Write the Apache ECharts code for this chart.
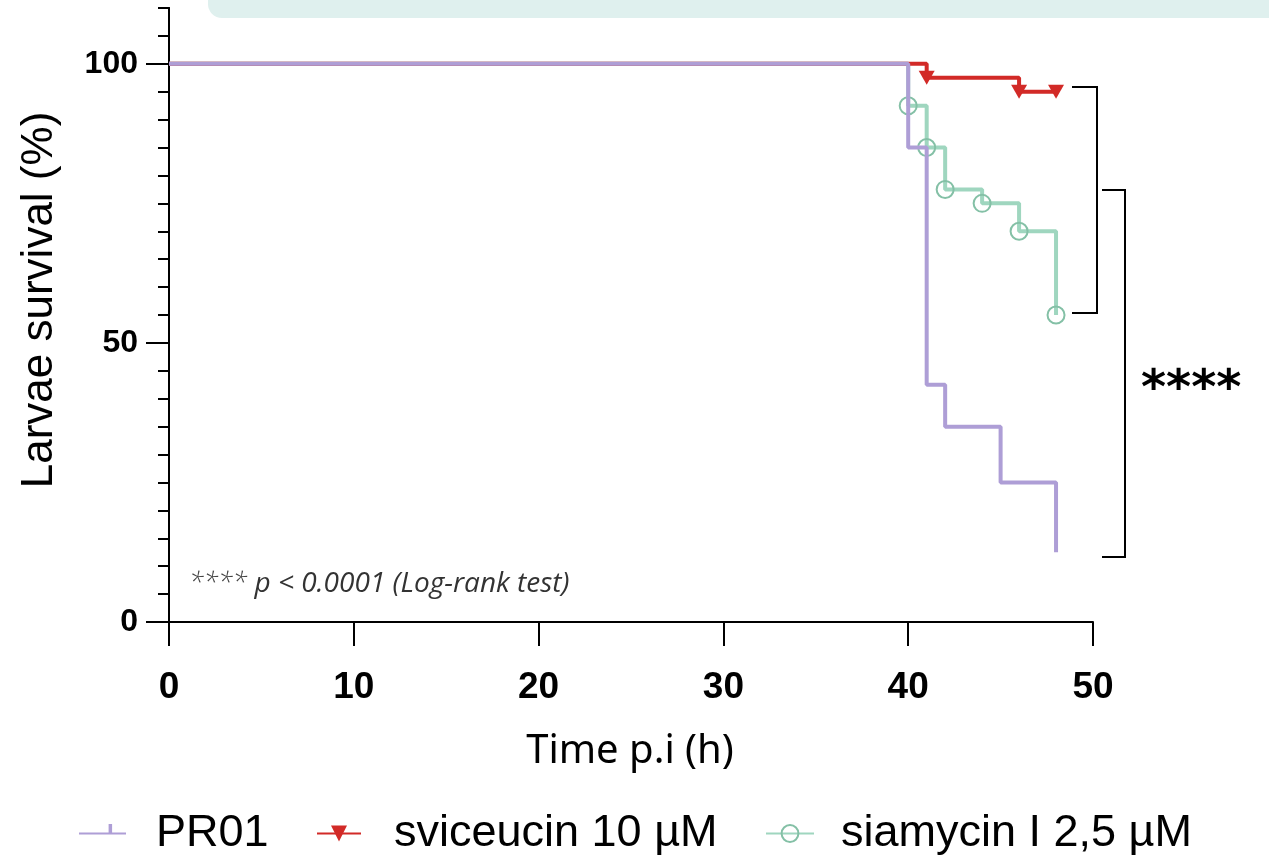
<!DOCTYPE html>
<html>
<head>
<meta charset="utf-8">
<script src="https://cdn.jsdelivr.net/npm/echarts@6/dist/echarts.min.js"></script>
<style>
  html, body { margin: 0; padding: 0; background: #ffffff; }
  #chart { width: 1269px; height: 862px; }
</style>
</head>
<body>
<div id="chart"></div>
<script>
// ---- data (time in hours, survival in %) ----
const seriesNames = ['PR01', 'sviceucin 10 µM', 'siamycin I 2,5 µM'];
const pr01 = [[0, 100], [40, 85], [41, 42.5], [42, 35], [45, 25], [48, 12.5]];
const sviceucin = [[0, 100], [41, 97.5], [46, 95], [48, 95]];
const siamycin = [[0, 100], [40, 92.5], [41, 85], [42, 77.5], [44, 75], [46, 70], [48, 55]];
const xTicks = [0, 10, 20, 30, 40, 50];
const yMajorTicks = [0, 50, 100];
const significance = '****';
const testNote = 'p < 0.0001 (Log-rank test)';

const SANS = "'Liberation Sans', Arial, sans-serif";
const colPurple = '#AE9ED6';
const colRed = '#D22A27';
const colTeal = '#9FD6BF';
const colTealMark = '#84C0A6';

function withHiddenFirst(arr) {
  return arr.map((p, i) => i === 0 ? { value: p, symbol: 'none' } : { value: p });
}

const chart = echarts.init(document.getElementById('chart'), null, { renderer: 'canvas' });

const tickPath = 'path://M9,0 L11,0 L11,10 L9,10 Z M0,20 L0.01,20 L0,20.01 Z';

const legendText = { fontFamily: SANS, fontSize: 45, color: '#000' };

const option = {
  animation: false,
  backgroundColor: '#ffffff',
  grid: { left: 169, right: 176, top: 8, bottom: 240, containLabel: false },
  xAxis: {
    type: 'value', min: 0, max: 50, interval: 10,
    axisLine: { show: true, lineStyle: { color: '#000', width: 2 } },
    axisTick: { show: true, length: 24, lineStyle: { color: '#000', width: 2 } },
    splitLine: { show: false },
    axisLabel: {
      margin: 47, color: '#000', fontFamily: SANS, fontWeight: 'bold', fontSize: 37,
      customValues: xTicks
    }
  },
  yAxis: [
    {
      type: 'value', min: 0, max: 110, position: 'left',
      axisLine: { show: true, lineStyle: { color: '#000', width: 2 } },
      axisTick: { show: true, length: 23, lineStyle: { color: '#000', width: 2 }, customValues: yMajorTicks },
      splitLine: { show: false },
      axisLabel: {
        margin: 31, color: '#000', fontFamily: SANS, fontWeight: 'bold', fontSize: 32,
        customValues: yMajorTicks
      }
    },
    {
      type: 'value', min: 0, max: 110, interval: 5, position: 'left',
      axisLine: { show: true, lineStyle: { color: '#000', width: 2 } },
      axisTick: { show: true, length: 11, lineStyle: { color: '#000', width: 2 } },
      splitLine: { show: false },
      axisLabel: { show: false }
    }
  ],
  legend: [
    {
      data: [seriesNames[0]], left: 78, top: 811, padding: 0, itemWidth: 47, itemHeight: 24,
      textStyle: Object.assign({ padding: [0, 0, 0, 25] }, legendText),
      selectedMode: false
    },
    {
      data: [seriesNames[1]], left: 316, top: 811, padding: 0, itemWidth: 44, itemHeight: 20,
      textStyle: Object.assign({ padding: [0, 0, 0, 28] }, legendText),
      selectedMode: false
    },
    {
      data: [seriesNames[2]], left: 765, top: 811, padding: 0, itemWidth: 48, itemHeight: 21,
      textStyle: Object.assign({ padding: [0, 0, 0, 22] }, legendText),
      selectedMode: false
    }
  ],
  series: [
    {
      name: seriesNames[2], type: 'line', step: 'end', data: withHiddenFirst(siamycin),
      yAxisIndex: 0, z: 2,
      lineStyle: { color: colTeal, width: 4 },
      symbol: 'circle', symbolSize: 17, showSymbol: true,
      itemStyle: { color: 'rgba(255,255,255,0)', borderColor: colTealMark, borderWidth: 2 },
      emphasis: { disabled: true }
    },
    {
      name: seriesNames[1], type: 'line', step: 'end', data: withHiddenFirst(sviceucin),
      yAxisIndex: 0, z: 3,
      lineStyle: { color: colRed, width: 4 },
      symbol: 'triangle', symbolRotate: 180, symbolSize: [16, 14], showSymbol: true,
      itemStyle: { color: colRed },
      emphasis: { disabled: true }
    },
    {
      name: seriesNames[0], type: 'line', step: 'end', data: pr01,
      yAxisIndex: 0, z: 4,
      lineStyle: { color: colPurple, width: 4 },
      symbol: tickPath, symbolSize: 16, showSymbol: false,
      itemStyle: { color: colPurple },
      emphasis: { disabled: true }
    }
  ],
  graphic: [
    {
      type: 'rect', left: 208, top: -12, z: -1,
      shape: { width: 1100, height: 30, r: [0, 0, 0, 14] },
      style: { fill: '#DFF0EE' }
    },
    {
      type: 'polyline', z: 10,
      shape: { points: [[1072, 87], [1097, 87], [1097, 313], [1072, 313]] },
      style: { stroke: '#000', lineWidth: 2, fill: null }
    },
    {
      type: 'polyline', z: 10,
      shape: { points: [[1102, 190], [1125, 190], [1125, 557], [1102, 557]] },
      style: { stroke: '#000', lineWidth: 2, fill: null }
    },
    {
      type: 'text', left: 1141, top: 367, z: 10,
      style: { text: significance, font: "bold 48px 'DejaVu Sans', sans-serif", fill: '#000' }
    },
    {
      type: 'text', z: 10, x: 189, y: 584,
      style: {
        text: '{a|****}{b| ' + testNote + '}',
        verticalAlign: 'middle',
        rich: {
          a: { fontFamily: "'Open Sans', sans-serif", fontStyle: 'italic', fontSize: 27, fill: '#444', fontWeight: 300 },
          b: { fontFamily: "'Open Sans', sans-serif", fontStyle: 'italic', fontSize: 28, fill: '#333' }
        }
      }
    },
    {
      type: 'text', z: 10, x: 630, y: 752,
      style: {
        text: 'Time p.i (h)', align: 'center', verticalAlign: 'middle',
        font: "40px 'Noto Sans', sans-serif", fill: '#000'
      }
    },
    {
      type: 'text', z: 10, x: 40, y: 300, rotation: Math.PI / 2,
      style: {
        text: 'Larvae survival (%)', align: 'center', verticalAlign: 'middle',
        font: "44px 'Liberation Sans', sans-serif", fill: '#000'
      }
    }
  ]
};

chart.setOption(option);
</script>
</body>
</html>
